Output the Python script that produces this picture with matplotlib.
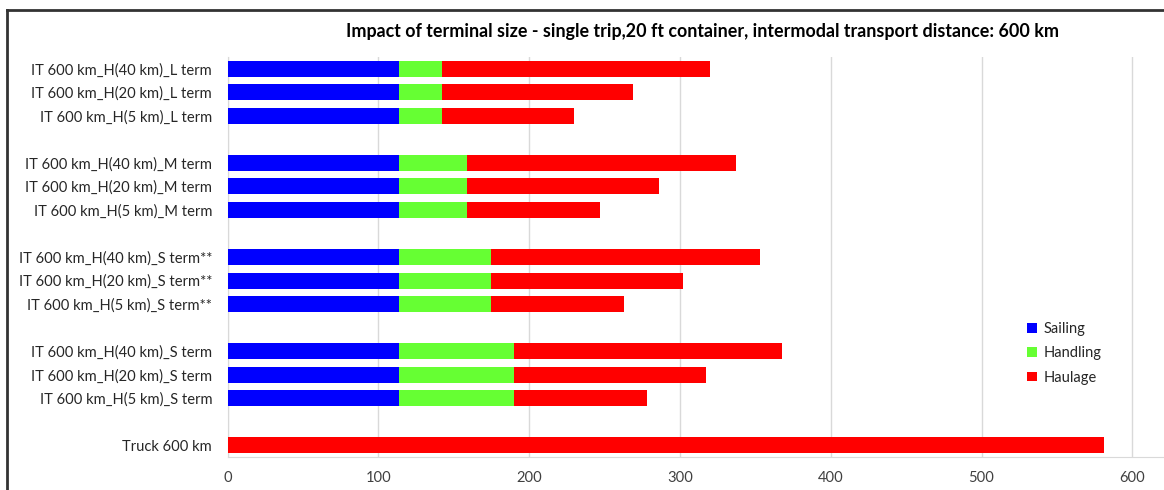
import matplotlib.pyplot as plt
import numpy as np

plt.rcParams['font.family'] = ['Lato', 'DejaVu Sans']

# categories from top to bottom, blank entries are spacer rows
categories = [
    'IT 600 km_H(40 km)_L term', 'IT 600 km_H(20 km)_L term', 'IT 600 km_H(5 km)_L term', '',
    'IT 600 km_H(40 km)_M term', 'IT 600 km_H(20 km)_M term', 'IT 600 km_H(5 km)_M term', '',
    'IT 600 km_H(40 km)_S term**', 'IT 600 km_H(20 km)_S term**', 'IT 600 km_H(5 km)_S term**', '',
    'IT 600 km_H(40 km)_S term', 'IT 600 km_H(20 km)_S term', 'IT 600 km_H(5 km)_S term', '',
    'Truck 600 km',
]
sailing = [114, 114, 114, 0, 114, 114, 114, 0, 114, 114, 114, 0, 114, 114, 114, 0, 0]
handling = [28, 28, 28, 0, 45, 45, 45, 0, 61, 61, 61, 0, 76, 76, 76, 0, 0]
haulage = [178, 127, 88, 0, 178, 127, 88, 0, 178, 127, 88, 0, 178, 127, 88, 0, 581]

title = 'Impact of terminal size - single trip,20 ft container, intermodal transport distance: 600 km'

sailing = np.array(sailing)
handling = np.array(handling)
haulage = np.array(haulage)
y = np.arange(len(categories))

fig = plt.figure(figsize=(11.64, 4.9), dpi=100)
ax = fig.add_axes([227.5 / 1164, 33 / 490, 1 - 227.5 / 1164, 400 / 490])

h = 0.68
b1 = ax.barh(y, sailing, height=h, color='#0000FF', label='Sailing', zorder=3)
b2 = ax.barh(y, handling, left=sailing, height=h, color='#66FF33', label='Handling', zorder=3)
b3 = ax.barh(y, haulage, left=sailing + handling, height=h, color='#FF0000', label='Haulage', zorder=3)

ax.set_ylim(len(categories) - 0.5, -0.5)
ax.set_xlim(0, 621)
ax.set_xticks(np.arange(0, 601, 100))
ax.set_yticks(y)
ax.set_yticklabels(categories, fontsize=10.6, color='#262626')
ax.tick_params(axis='x', labelsize=10.6, colors='#404040', length=0, pad=10)
ax.tick_params(axis='y', length=0, pad=11)
ax.grid(axis='x', color='#d9d9d9', linewidth=1, zorder=0)
for s in ['top', 'right']:
    ax.spines[s].set_visible(False)
for s in ['left', 'bottom']:
    ax.spines[s].set_color('#d9d9d9')

fig.text(702 / 1164, 1 - 32 / 490, title, ha='center', va='center',
         fontsize=12.9, fontweight='bold', color='#000000')

leg = ax.legend(handles=[b1, b2, b3], loc='upper left', frameon=False,
                bbox_to_anchor=(1014 / 1164, 1 - 309 / 490), bbox_transform=fig.transFigure,
                fontsize=10.5, handlelength=0.65, handleheight=0.65, handletextpad=0.5,
                labelspacing=0.7)
for t in leg.get_texts():
    t.set_color('#262626')

# chart frame lines
fig.add_artist(plt.Line2D([7 / 1164, 7 / 1164], [0, 1 - 10 / 490], transform=fig.transFigure,
                          color='#333333', linewidth=2))
fig.add_artist(plt.Line2D([7 / 1164, 1], [1 - 10 / 490, 1 - 10 / 490], transform=fig.transFigure,
                          color='#333333', linewidth=2))

fig.savefig('out.png', dpi=100)
